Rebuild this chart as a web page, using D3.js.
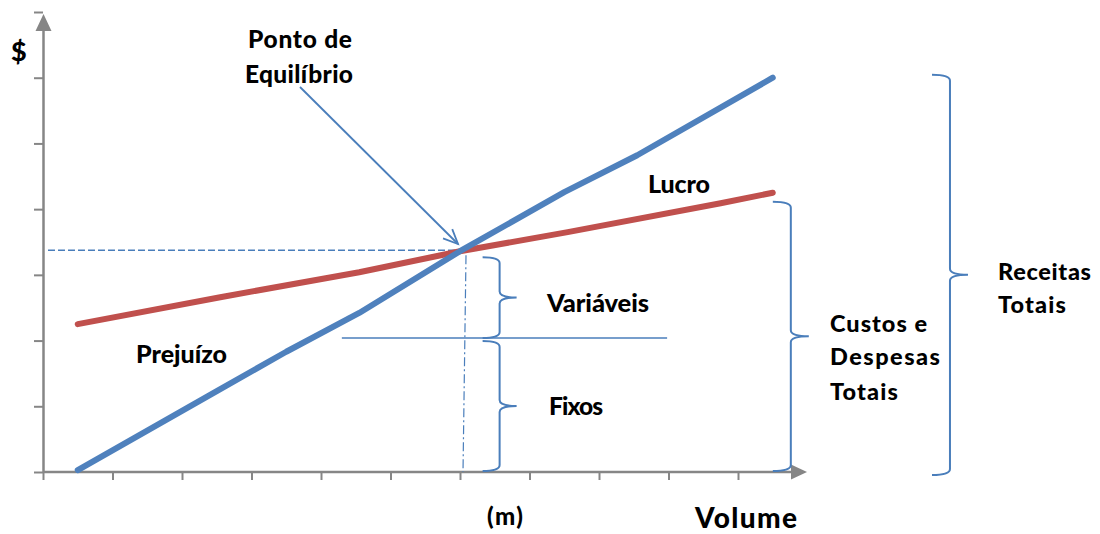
<!DOCTYPE html>
<html>
<head>
<meta charset="utf-8">
<script src="https://cdn.jsdelivr.net/npm/d3@7"></script>
<style>
  html, body { margin: 0; padding: 0; background: #fff; }
  svg text { font-family: Lato, "Open Sans", sans-serif; font-weight: 900; fill: #000; }
</style>
</head>
<body>
<svg id="chart" width="1100" height="534"></svg>
<script>
// ---- data (volume units, $ units) ----
const xTicks = [0, 1, 2, 3, 4, 5, 6, 7, 8, 9, 10];
const yTicks = [0, 1, 2, 3, 4, 5, 6, 7];
const receitasX = [0.5, 2.5, 3.5, 4.55, 6.0, 7.5, 8.55, 10.5];
const receitasY = [0.03, 1.23, 1.83, 2.42, 3.36, 4.26, 4.82, 6.0];
const custosX = [0.5, 2.55, 4.55, 6.0, 7.55, 9.75, 10.5];
const custosY = [2.25, 2.66, 3.04, 3.36, 3.65, 4.09, 4.25];
const breakEven = { x: 6.0, y: 3.36 };
const fixedCost = 2.04;
const fixedLineX = [4.3, 8.98];

const svg = d3.select("#chart");
const x = d3.scaleLinear().domain([0, 10]).range([43, 738]);
const y = d3.scaleLinear().domain([0, 7]).range([472, 12]);

const axisColor = "#868686";
const blue = "#4F81BD";
const red = "#C0504D";
const thin = "#4A7EBB";

// ---- axes ----
const gx = svg.append("g").attr("transform", `translate(0,${y(0)})`)
  .call(d3.axisBottom(x).tickValues(xTicks).tickSize(8).tickFormat(""));
gx.select(".domain").remove();
gx.selectAll(".tick line").attr("stroke", axisColor).attr("stroke-width", 2);

const gy = svg.append("g").attr("transform", `translate(${x(0)},0)`)
  .call(d3.axisLeft(y).tickValues(yTicks).tickSize(9).tickFormat(""));
gy.select(".domain").remove();
gy.selectAll(".tick line").attr("stroke", axisColor).attr("stroke-width", 2);

// axis lines with arrowheads
svg.append("line").attr("x1", x(0)).attr("x2", 792).attr("y1", y(0)).attr("y2", y(0))
  .attr("stroke", axisColor).attr("stroke-width", 2.5);
svg.append("path").attr("d", `M807,${y(0)} L791,${y(0) - 7.5} L791,${y(0) + 7.5} Z`).attr("fill", axisColor);
svg.append("line").attr("x1", x(0) + 0.5).attr("x2", x(0) + 0.5).attr("y1", y(0) + 1).attr("y2", 30)
  .attr("stroke", axisColor).attr("stroke-width", 2.5);
svg.append("path").attr("d", `M${x(0) + 0.5},14 L${x(0) - 7.5},31 L${x(0) + 8.5},31 Z`).attr("fill", axisColor);

// ---- guide lines ----
svg.append("line").attr("x1", 48).attr("x2", x(breakEven.x)).attr("y1", y(breakEven.y) - 1).attr("y2", y(breakEven.y) - 1)
  .attr("stroke", thin).attr("stroke-width", 1.5).attr("stroke-dasharray", "7,3");
svg.append("line").attr("x1", x(breakEven.x) + 6).attr("x2", x(breakEven.x) + 3).attr("y1", y(breakEven.y) + 4).attr("y2", y(0))
  .attr("stroke", thin).attr("stroke-width", 1.2).attr("stroke-dasharray", "9,3,2,3");
svg.append("line").attr("x1", x(fixedLineX[0])).attr("x2", x(fixedLineX[1])).attr("y1", y(fixedCost)).attr("y2", y(fixedCost))
  .attr("stroke", thin).attr("stroke-width", 1.5);

// ---- series lines ----
const line = d3.line().x(d => x(d[0])).y(d => y(d[1]));
svg.append("path").datum(custosX.map((v, i) => [v, custosY[i]]))
  .attr("d", line).attr("fill", "none").attr("stroke", red).attr("stroke-width", 6)
  .attr("stroke-linecap", "round").attr("stroke-linejoin", "round");
svg.append("path").datum(receitasX.map((v, i) => [v, receitasY[i]]))
  .attr("d", line).attr("fill", "none").attr("stroke", blue).attr("stroke-width", 6)
  .attr("stroke-linecap", "round").attr("stroke-linejoin", "round");

// ---- braces ----
function brace(xv, yTop, yBot, w) {
  const ym = (yTop + yBot) / 2;
  const r = 6;
  return `M${xv - w},${yTop} Q${xv},${yTop} ${xv},${yTop + r}` +
    ` L${xv},${ym - r} Q${xv},${ym} ${xv + w},${ym}` +
    ` Q${xv},${ym} ${xv},${ym + r}` +
    ` L${xv},${yBot - r} Q${xv},${yBot} ${xv - w},${yBot}`;
}
function drawBrace(xv, yTop, yBot, w) {
  svg.append("path").attr("d", brace(xv, yTop, yBot, w))
    .attr("fill", "none").attr("stroke", thin).attr("stroke-width", 2);
}
drawBrace(x(6.57), y(breakEven.y) + 6, y(fixedCost), 17);
drawBrace(x(6.57), y(fixedCost) + 3, y(0) - 1, 17);
drawBrace(x(10.76), y(custosY[custosY.length - 1]) + 9, y(0) - 1, 18);
drawBrace(x(13.05), y(receitasY[receitasY.length - 1]) - 3, y(0) + 3, 18);

// ---- annotation arrow ----
const ax1 = 300, ay1 = 87, ax2 = 458, ay2 = 244;
svg.append("line").attr("x1", ax1).attr("y1", ay1).attr("x2", ax2).attr("y2", ay2)
  .attr("stroke", thin).attr("stroke-width", 1.8);
const ang = Math.atan2(ay2 - ay1, ax2 - ax1);
const L = 16, spread = 0.42;
svg.append("path")
  .attr("d", `M${ax2 - L * Math.cos(ang - spread)},${ay2 - L * Math.sin(ang - spread)} L${ax2},${ay2} L${ax2 - L * Math.cos(ang + spread)},${ay2 - L * Math.sin(ang + spread)}`)
  .attr("fill", "none").attr("stroke", thin).attr("stroke-width", 1.8);

// ---- texts ----
const labels = [
  { t: "$", x: 11, y: 61, s: 27, w: 15 },
  { t: "Ponto de", x: 248, y: 48, s: 24.5, w: 104 },
  { t: "Equilíbrio", x: 245, y: 83, s: 24.5, w: 108 },
  { t: "Variáveis", x: 547, y: 312, s: 25.5, w: 102 },
  { t: "Fixos", x: 549, y: 415, s: 24.5, w: 54 },
  { t: "Prejuízo", x: 136, y: 363, s: 25, w: 91 },
  { t: "Lucro", x: 648, y: 193, s: 25, w: 62 },
  { t: "Custos e", x: 830, y: 332, s: 23.5, w: 97 },
  { t: "Despesas", x: 830, y: 365, s: 23.5, w: 110 },
  { t: "Totais", x: 830, y: 400, s: 23.5, w: 68 },
  { t: "Receitas", x: 998, y: 280, s: 23.5, w: 93 },
  { t: "Totais", x: 998, y: 313, s: 23.5, w: 68 },
  { t: "(m)", x: 487, y: 525, s: 24, w: 36 },
  { t: "Volume", x: 695, y: 528, s: 28, w: 102 }
];
svg.selectAll("text.lbl").data(labels).enter().append("text").attr("class", "lbl")
  .attr("x", d => d.x).attr("y", d => d.y)
  .attr("font-size", d => d.s)
  .attr("textLength", d => d.w).attr("lengthAdjust", "spacing")
  .text(d => d.t);
</script>
</body>
</html>
